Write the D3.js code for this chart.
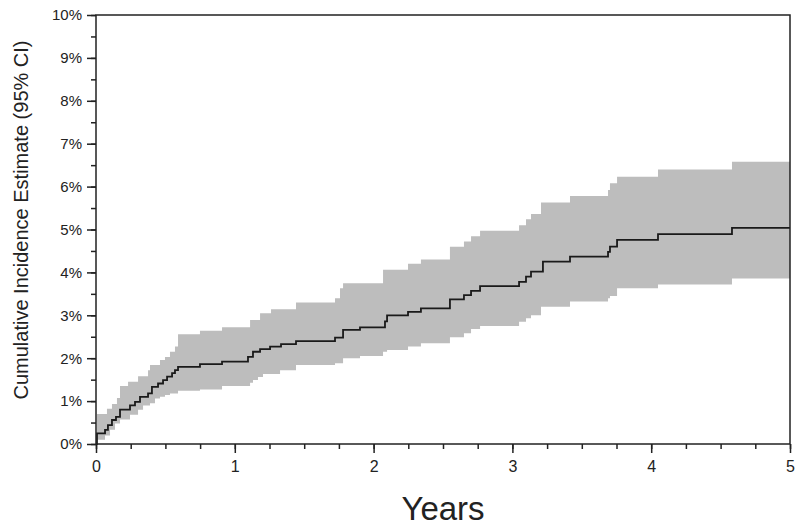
<!DOCTYPE html>
<html lang="en">
<head>
<meta charset="UTF-8">
<title>Cumulative Incidence</title>
<script src="https://d3js.org/d3.v7.min.js"></script>
<style>
  body { margin: 0; background: #fff; }
  text { font-family: "Liberation Sans", Arial, sans-serif; fill: #222; }
</style>
</head>
<body>
<svg id="main" width="800" height="530"></svg>
<script>
// step times (years) and values (%) that hold from each time onward
const times = [0, 0.007, 0.065, 0.079, 0.086, 0.101, 0.115, 0.137, 0.144, 0.151, 0.173, 0.231, 0.245, 0.281, 0.303, 0.317, 0.339, 0.375, 0.389, 0.403, 0.425, 0.447, 0.461, 0.483, 0.497, 0.512, 0.533, 0.548, 0.569, 0.591, 0.749, 0.908, 1.095, 1.110, 1.131, 1.167, 1.182, 1.203, 1.254, 1.261, 1.326, 1.333, 1.441, 1.722, 1.758, 1.780, 1.902, 2.068, 2.082, 2.097, 2.248, 2.341, 2.550, 2.651, 2.702, 2.767, 3.048, 3.098, 3.134, 3.206, 3.220, 3.415, 3.689, 3.703, 3.754, 4.049, 4.582, 5.0];
const estimate = [0, 0.25, 0.33, 0.33, 0.44, 0.44, 0.56, 0.56, 0.63, 0.63, 0.80, 0.80, 0.90, 0.98, 0.98, 1.10, 1.10, 1.18, 1.18, 1.33, 1.33, 1.41, 1.41, 1.49, 1.49, 1.57, 1.57, 1.65, 1.72, 1.80, 1.86, 1.92, 2.03, 2.03, 2.15, 2.15, 2.21, 2.21, 2.27, 2.27, 2.27, 2.33, 2.40, 2.48, 2.48, 2.66, 2.72, 2.72, 2.86, 3.00, 3.08, 3.16, 3.37, 3.47, 3.57, 3.68, 3.78, 3.90, 4.02, 4.02, 4.25, 4.37, 4.48, 4.60, 4.76, 4.89, 5.04, 5.04];
const lower = [0, 0.10, 0.20, 0.20, 0.20, 0.33, 0.33, 0.48, 0.48, 0.48, 0.57, 0.57, 0.68, 0.68, 0.80, 0.80, 0.90, 0.90, 0.95, 0.95, 1.06, 1.06, 1.10, 1.10, 1.14, 1.14, 1.18, 1.18, 1.18, 1.24, 1.27, 1.35, 1.35, 1.43, 1.49, 1.56, 1.56, 1.63, 1.63, 1.63, 1.72, 1.72, 1.84, 1.88, 1.88, 2.00, 2.05, 2.15, 2.15, 2.19, 2.27, 2.35, 2.49, 2.58, 2.68, 2.75, 2.85, 2.93, 3.00, 3.20, 3.20, 3.32, 3.40, 3.45, 3.63, 3.72, 3.86, 3.86];
const upper = [0, 0.70, 0.70, 0.82, 0.82, 0.82, 0.93, 0.93, 0.93, 1.07, 1.35, 1.45, 1.45, 1.45, 1.58, 1.58, 1.58, 1.72, 1.84, 1.84, 1.84, 1.84, 1.96, 1.96, 2.03, 2.03, 2.15, 2.15, 2.27, 2.56, 2.64, 2.72, 2.72, 2.89, 2.89, 2.89, 3.05, 3.05, 3.05, 3.14, 3.14, 3.14, 3.30, 3.40, 3.63, 3.75, 3.75, 4.06, 4.06, 4.06, 4.20, 4.30, 4.60, 4.72, 4.84, 4.97, 5.10, 5.24, 5.36, 5.63, 5.63, 5.78, 5.92, 6.08, 6.23, 6.40, 6.58, 6.58];

const xTicks = [0, 1, 2, 3, 4, 5];
const yTicks = [0, 1, 2, 3, 4, 5, 6, 7, 8, 9, 10];
const xMinorTicks = d3.range(0, 5.001, 0.25);
const yMinorTicks = d3.range(0, 10.001, 0.5);

const data = times.map((t, i) => ({t: t, est: estimate[i], lo: lower[i], hi: upper[i]}));

const svg = d3.select('svg#main');
const m = {left: 96, right: 790, top: 15, bottom: 444};

const x = d3.scaleLinear().domain([0, 5]).range([m.left, m.right]);
const y = d3.scaleLinear().domain([0, 10]).range([m.bottom, m.top]);

// CI band
const band = d3.area()
    .curve(d3.curveStepAfter)
    .x(d => x(d.t))
    .y0(d => y(d.lo))
    .y1(d => y(d.hi));

svg.append('path')
    .datum(data)
    .attr('fill', '#bdbdbd')
    .attr('d', band);

// estimate line
const line = d3.line()
    .curve(d3.curveStepAfter)
    .x(d => x(d.t))
    .y(d => y(d.est));

svg.append('path')
    .datum(data)
    .attr('fill', 'none')
    .attr('stroke', '#1a1a1a')
    .attr('stroke-width', 1.8)
    .attr('d', line);

// minor ticks
svg.append('g')
    .attr('transform', `translate(0,${m.bottom})`)
    .call(d3.axisBottom(x).tickValues(xMinorTicks).tickSize(5).tickFormat(''))
    .call(g => g.select('.domain').remove());
svg.append('g')
    .attr('transform', `translate(${m.left},0)`)
    .call(d3.axisLeft(y).tickValues(yMinorTicks).tickSize(5).tickFormat(''))
    .call(g => g.select('.domain').remove());

// major ticks
svg.append('g')
    .attr('class', 'xmaj')
    .attr('transform', `translate(0,${m.bottom})`)
    .call(d3.axisBottom(x).tickValues(xTicks).tickSize(9).tickPadding(8).tickFormat(d3.format('d')));
svg.append('g')
    .attr('transform', `translate(${m.left},0)`)
    .call(d3.axisLeft(y).tickValues(yTicks).tickSize(9).tickPadding(5).tickFormat(d => d + '%'));

svg.selectAll('.tick line').attr('stroke', '#222').attr('stroke-width', 1.5);
svg.selectAll('.tick text').style('font-size', '15px').attr('fill', '#222');
svg.selectAll('.xmaj .tick text').style('font-size', '16px');
svg.selectAll('.domain').remove();

// frame
svg.append('rect')
    .attr('x', m.left).attr('y', m.top)
    .attr('width', m.right - m.left).attr('height', m.bottom - m.top)
    .attr('fill', 'none')
    .attr('stroke', '#222')
    .attr('stroke-width', 1.5);

// titles
svg.append('text')
    .attr('x', (m.left + m.right) / 2)
    .attr('y', 520)
    .attr('text-anchor', 'middle')
    .style('font-size', '33px')
    .text('Years');

svg.append('text')
    .attr('transform', 'translate(28,220) rotate(-90)')
    .attr('text-anchor', 'middle')
    .style('font-size', '20px')
    .text('Cumulative Incidence Estimate (95% CI)');
</script>
</body>
</html>
